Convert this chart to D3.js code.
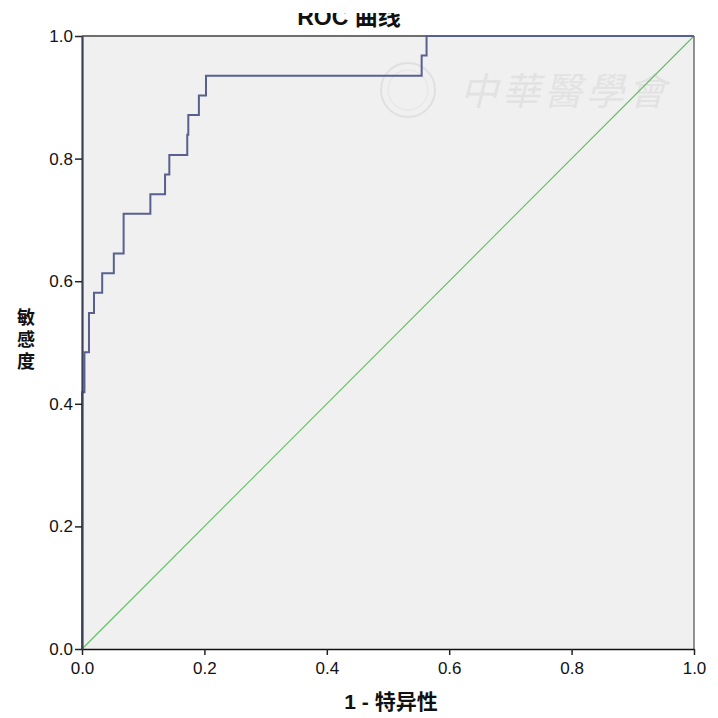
<!DOCTYPE html>
<html><head><meta charset="utf-8">
<script src="https://cdn.jsdelivr.net/npm/d3@7"></script>
<style>body{margin:0;background:#fff}svg{display:block}</style>
</head><body>
<svg id="c" width="718" height="718"></svg>
<script>
const fpr = [0, 0, 0.004, 0.0114, 0.0196, 0.033, 0.052, 0.068, 0.1117, 0.1357, 0.1427, 0.172, 0.1737, 0.191, 0.2026, 0.555, 0.563, 1];
const tpr = [0, 0.419, 0.484, 0.548, 0.581, 0.613, 0.645, 0.710, 0.742, 0.774, 0.806, 0.839, 0.871, 0.903, 0.935, 0.968, 1, 1];
const refX = [0, 1];
const refY = [0, 1];
const ticks = [0, 0.2, 0.4, 0.6, 0.8, 1.0];
const title = "ROC 曲线";
const xLabel = "1 - 特异性";
const yLabel = "敏感度";
const watermark = "中華醫學會";

const svg = d3.select("#c");
const L = 82, R = 694, T = 36, B = 649;
const x = d3.scaleLinear().domain([0, 1]).range([L, R]);
const y = d3.scaleLinear().domain([0, 1]).range([B, T]);

svg.append("rect").attr("x", L).attr("y", T).attr("width", R - L).attr("height", B - T).attr("fill", "#f0f0f0");

// watermark
const wm = svg.append("g").attr("opacity", 0.3);
wm.append("circle").attr("cx", 408).attr("cy", 90).attr("r", 27).attr("fill", "none").attr("stroke", "#bdbdbd").attr("stroke-width", 2);
wm.append("circle").attr("cx", 408).attr("cy", 90).attr("r", 20).attr("fill", "none").attr("stroke", "#c8c8c8").attr("stroke-width", 1);
wm.append("text").attr("x", 460).attr("y", 105).attr("font-family", "Noto Sans CJK TC").attr("font-size", 38)
  .attr("font-style", "italic").attr("fill", "#c4c4c4").attr("letter-spacing", 4).text(watermark);

// reference diagonal
svg.append("path").attr("d", d3.line()(refX.map((v, i) => [x(v), y(refY[i])])))
  .attr("stroke", "#5fbf5f").attr("stroke-width", 1.1).attr("fill", "none");

// frame top & right
svg.append("line").attr("x1", L).attr("x2", R).attr("y1", T).attr("y2", T).attr("stroke", "#6e6e6e").attr("stroke-width", 2);
svg.append("line").attr("x1", R).attr("x2", R).attr("y1", T).attr("y2", B).attr("stroke", "#6e6e6e").attr("stroke-width", 1.5);

// ROC curve
svg.append("path").attr("d", d3.line().curve(d3.curveStepAfter)(fpr.map((v, i) => [x(v), y(tpr[i])])))
  .attr("stroke", "#58608e").attr("stroke-width", 2).attr("fill", "none");

// axes
const xa = svg.append("g").attr("transform", `translate(0,${B})`)
  .call(d3.axisBottom(x).tickValues(ticks).tickFormat(d3.format(".1f")).tickSize(6).tickSizeOuter(0));
const ya = svg.append("g").attr("transform", `translate(${L},0)`)
  .call(d3.axisLeft(y).tickValues(ticks).tickFormat(d3.format(".1f")).tickSize(7).tickSizeOuter(0));
xa.select(".domain").attr("stroke", "#111").attr("stroke-width", 1.5);
ya.select(".domain").attr("stroke", "#3c4058").attr("stroke-width", 2.2);
[xa, ya].forEach(a => {
  a.selectAll(".tick line").attr("stroke", "#222").attr("stroke-width", 1.5);
  a.selectAll(".tick text").attr("font-family", "Liberation Sans Narrow, Arial, sans-serif").attr("font-size", 17).attr("fill", "#111");
});
xa.selectAll(".tick text").attr("dy", "0.95em");
ya.selectAll(".tick text").attr("x", -9);

// title clipped at top
svg.append("clipPath").attr("id", "tc").append("rect").attr("x", 0).attr("y", 13).attr("width", 718).attr("height", 20);
svg.append("text").attr("clip-path", "url(#tc)").attr("x", 349).attr("y", 25).attr("text-anchor", "middle")
  .attr("font-family", "Arial, Liberation Sans, Noto Sans CJK SC").attr("font-weight", "bold").attr("font-size", 23).attr("fill", "#111").text(title);

// x label
svg.append("text").attr("x", 391).attr("y", 709).attr("text-anchor", "middle")
  .attr("font-family", "Arial, Liberation Sans, Noto Sans CJK SC").attr("font-weight", "bold").attr("font-size", 21).attr("fill", "#111").text(xLabel);

// y label: vertical writing, one text
svg.append("text").attr("x", 26).attr("y", 308)
  .style("writing-mode", "vertical-rl")
  .attr("font-family", "Noto Sans CJK SC").attr("font-weight", "bold").attr("font-size", 18)
  .attr("letter-spacing", 4).attr("fill", "#111").text(yLabel);
</script>
</body></html>
